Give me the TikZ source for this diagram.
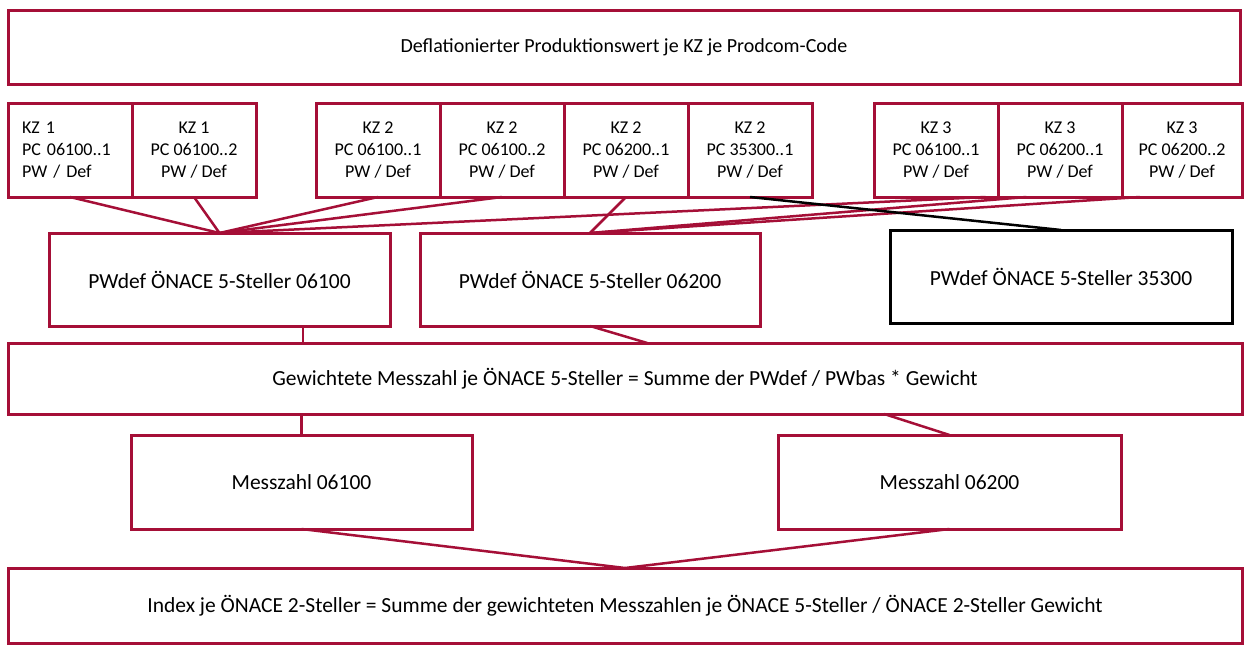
\documentclass[tikz,border=0pt]{standalone}
\usepackage{fontspec}
\setmainfont{Carlito}
\usetikzlibrary{positioning,calc}
\definecolor{weinrot}{RGB}{165,15,55}

\begin{document}
\begin{tikzpicture}[x=1pt,y=-1pt,node distance=0pt,every node/.style={font=\fontsize{18}{22}\selectfont},
 box/.style={draw=weinrot,line width=3pt,outer sep=0pt,inner sep=0pt,align=center},
 big/.style={box,font=\fontsize{21.5}{26}\selectfont},
 kz/.style={box,minimum width=124pt,minimum height=94pt},
 link/.style={draw=weinrot,line width=2.5pt}]
\useasboundingbox[fill=white] (0,0) rectangle (1244,648);
\node[box,font=\fontsize{20}{24}\selectfont,minimum width=1232pt,minimum height=74pt,anchor=north west] (top) at (8,10) {Deflationierter Produktionswert je KZ je Prodcom-Code};
% KZ row
\node[kz,anchor=north west,align=left,text width=96pt] (k11) at (8,103) {KZ 1\\PC 06100..1\\PW / Def};
\node[kz,right=of k11] (k12) {KZ 1\\PC 06100..2\\PW / Def};
\node[kz,anchor=north west] (k21) at (316,103) {KZ 2\\PC 06100..1\\PW / Def};
\node[kz,right=of k21] (k22) {KZ 2\\PC 06100..2\\PW / Def};
\node[kz,right=of k22] (k23) {KZ 2\\PC 06200..1\\PW / Def};
\node[kz,right=of k23] (k24) {KZ 2\\PC 35300..1\\PW / Def};
\node[kz,anchor=north west] (k31) at (874,103) {KZ 3\\PC 06100..1\\PW / Def};
\node[kz,right=of k31] (k32) {KZ 3\\PC 06200..1\\PW / Def};
\node[kz,right=of k32,minimum width=120pt] (k33) {KZ 3\\PC 06200..2\\PW / Def};
% 5-Steller
\node[big,minimum width=341pt,minimum height=93pt,anchor=north west] (p1) at (49,233) {PWdef ÖNACE 5-Steller 06100};
\node[big,minimum width=340pt,minimum height=93pt,anchor=north west] (p2) at (420,233) {PWdef ÖNACE 5-Steller 06200};
\node[big,draw=black,minimum width=342pt,minimum height=93pt,anchor=north west] (p3) at (890,230) {PWdef ÖNACE 5-Steller 35300};
\node[big,minimum width=1234pt,minimum height=71pt,anchor=north west] (g) at (8,343) {Gewichtete Messzahl je ÖNACE 5-Steller = Summe der PWdef / PWbas * Gewicht};
\node[big,minimum width=341pt,minimum height=94pt,anchor=north west] (m1) at (131,435) {Messzahl 06100};
\node[big,minimum width=343pt,minimum height=94pt,anchor=north west] (m2) at (778,435) {Messzahl 06200};
\node[big,minimum width=1234pt,minimum height=75pt,anchor=north west] (idx) at (8,568) {Index je ÖNACE 2-Steller = Summe der gewichteten Messzahlen je ÖNACE 5-Steller / ÖNACE 2-Steller Gewicht};
% connectors
\draw[link] (k11.south) -- (p1.north);
\draw[link] (k12.south) -- (p1.north);
\draw[link] (k21.south) -- (p1.north);
\draw[link] (k22.south) -- (p1.north);
\draw[link] ($(k31.south west)!0.9!(k31.south east)$) -- (p1.north);
\draw[link] (k23.south) -- (p2.north);
\draw[link] ($(k32.south west)!0.23!(k32.south east)$) -- (p2.north);
\draw[link] ($(k33.south west)!0.15!(k33.south east)$) -- (p2.north);
\draw[link,draw=black] (k24.south) -- (p3.north);
\coordinate (p1s) at ($(p1.south west)!0.745!(p1.south east)$);
\draw[link] (p1s) -- (p1s |- g.north);
\draw[link] (p2.south) -- ($(g.north west)!0.518!(g.north east)$);
\draw[link] (m1.north) -- (m1.north |- g.south);
\draw[link] ($(g.south west)!0.71!(g.south east)$) -- (m2.north);
\draw[link] (m1.south) -- (idx.north);
\draw[link] (m2.south) -- (idx.north);
\end{tikzpicture}
\end{document}
